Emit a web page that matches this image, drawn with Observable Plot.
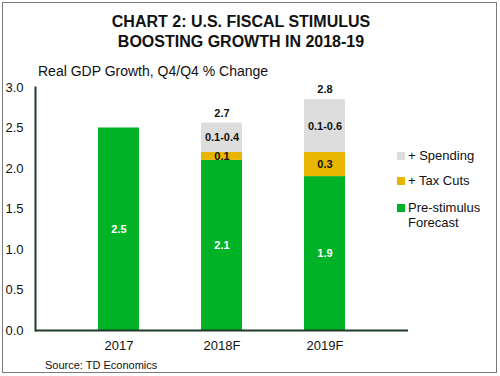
<!DOCTYPE html>
<html>
<head>
<meta charset="utf-8">
<script src="https://cdn.jsdelivr.net/npm/d3@7"></script>
<script src="https://cdn.jsdelivr.net/npm/@observablehq/plot@0.6"></script>
<style>
  body { margin: 0; background: #fff; font-family: "Liberation Sans", Arial, sans-serif; color: #111; }
  #wrap { position: relative; width: 500px; height: 376px; overflow: hidden; }
  #border { position: absolute; left: 2px; top: 2px; width: 493px; height: 369px; border: 1.5px solid #7a7a7a; }
  #title { position: absolute; left: 0; top: 12px; width: 482px; text-align: center; font-weight: bold; font-size: 16px; line-height: 20px; }
  #subtitle { position: absolute; left: 38px; top: 62px; font-size: 14px; line-height: 18px; }
  #chart { position: absolute; left: 0; top: 75px; }
  #source { position: absolute; left: 45px; top: 358px; font-size: 11px; line-height: 14px; }
  .leg { position: absolute; left: 397px; font-size: 13px; line-height: 15px; }
  .leg .sw { position: absolute; left: 0; top: 4px; width: 8px; height: 8px; }
  .leg .tx { position: absolute; left: 11px; top: 0; white-space: nowrap; }
</style>
</head>
<body>
<div id="wrap">
  <div id="border"></div>
  <div id="title">CHART 2: U.S. FISCAL STIMULUS<br>BOOSTING GROWTH IN 2018-19</div>
  <div id="subtitle">Real GDP Growth, Q4/Q4 % Change</div>
  <div id="chart"></div>
  <div id="legend"></div>
  <div id="source">Source: TD Economics</div>
</div>
<script>
const years = ["2017", "2018F", "2019F"];
const components = ["Pre-stimulus Forecast", "+ Tax Cuts", "+ Spending"];
const colors = ["#00b226", "#e8b500", "#dddddd"];
const preStimulus = [2.5, 2.1, 1.9];
const taxCuts = [0, 0.1, 0.3];
const spending = [0, 0.36, 0.65];
const preLabels = ["2.5", "2.1", "1.9"];
const taxLabels = ["", "0.1", "0.3"];
const spendLabels = ["", "0.1-0.4", "0.1-0.6"];
const totalLabels = ["", "2.7", "2.8"];
const yTicks = [0, 0.5, 1.0, 1.5, 2.0, 2.5, 3.0];
const legendItems = ["+ Spending", "+ Tax Cuts", "Pre-stimulus\nForecast"];

const series = [preStimulus, taxCuts, spending];
const labels = [preLabels, taxLabels, spendLabels];
const data = years.flatMap((yr, i) => components.map((c, j) => ({
  year: yr, comp: c, value: series[j][i], label: labels[j][i]
})));
const totals = years.map((yr, i) => ({
  year: yr, top: preStimulus[i] + taxCuts[i] + spending[i], label: totalLabels[i]
}));

const axisColor = "#1f3a28";
const fmt = d3.format(".1f");

const chart = Plot.plot({
  width: 500,
  height: 280,
  marginTop: 12,
  marginBottom: 25,
  marginLeft: 35,
  marginRight: 92,
  x: { domain: years, padding: 0.6, label: null },
  y: { domain: [0, 3], label: null },
  color: { domain: components, range: colors },
  style: { fontFamily: "'Liberation Sans', Arial, sans-serif", fontSize: "13px", color: "#111", background: "transparent" },
  marks: [
    Plot.axisY({ ticks: yTicks, tickSize: 0, tickPadding: 12, tickFormat: fmt, label: null, fontSize: 13 }),
    Plot.axisX({ tickSize: 0, tickPadding: 10, label: null, fontSize: 13 }),
    Plot.barY(data, { x: "year", y: "value", fill: "comp", order: components }),
    Plot.text(data, Plot.stackY({
      x: "year", y: "value", z: "comp", order: components,
      text: d => d.comp === components[0] ? d.label : "",
      fill: "white", fontWeight: "bold", fontSize: 11
    })),
    Plot.text(data, Plot.stackY({
      x: "year", y: "value", z: "comp", order: components,
      text: d => d.comp !== components[0] ? d.label : "",
      fill: "#111", fontWeight: "bold", fontSize: 11
    })),
    Plot.text(totals, { x: "year", y: "top", text: "label", dy: -10, fill: "#111", fontWeight: "bold", fontSize: 11 }),
    Plot.ruleY([0], { stroke: axisColor, strokeWidth: 2 }),
    Plot.frame({ anchor: "left", stroke: axisColor, strokeWidth: 2 })
  ]
});
document.getElementById("chart").appendChild(chart);

// legend
const legTops = [148, 173, 200];
const legendColors = [colors[2], colors[1], colors[0]];
const leg = document.getElementById("legend");
legendItems.forEach((name, i) => {
  const item = document.createElement("div");
  item.className = "leg";
  item.style.top = legTops[i] + "px";
  const sw = document.createElement("div");
  sw.className = "sw";
  sw.style.background = legendColors[i];
  const tx = document.createElement("div");
  tx.className = "tx";
  tx.innerHTML = name.replace("\n", "<br>");
  item.appendChild(sw);
  item.appendChild(tx);
  leg.appendChild(item);
});
</script>
</body>
</html>
